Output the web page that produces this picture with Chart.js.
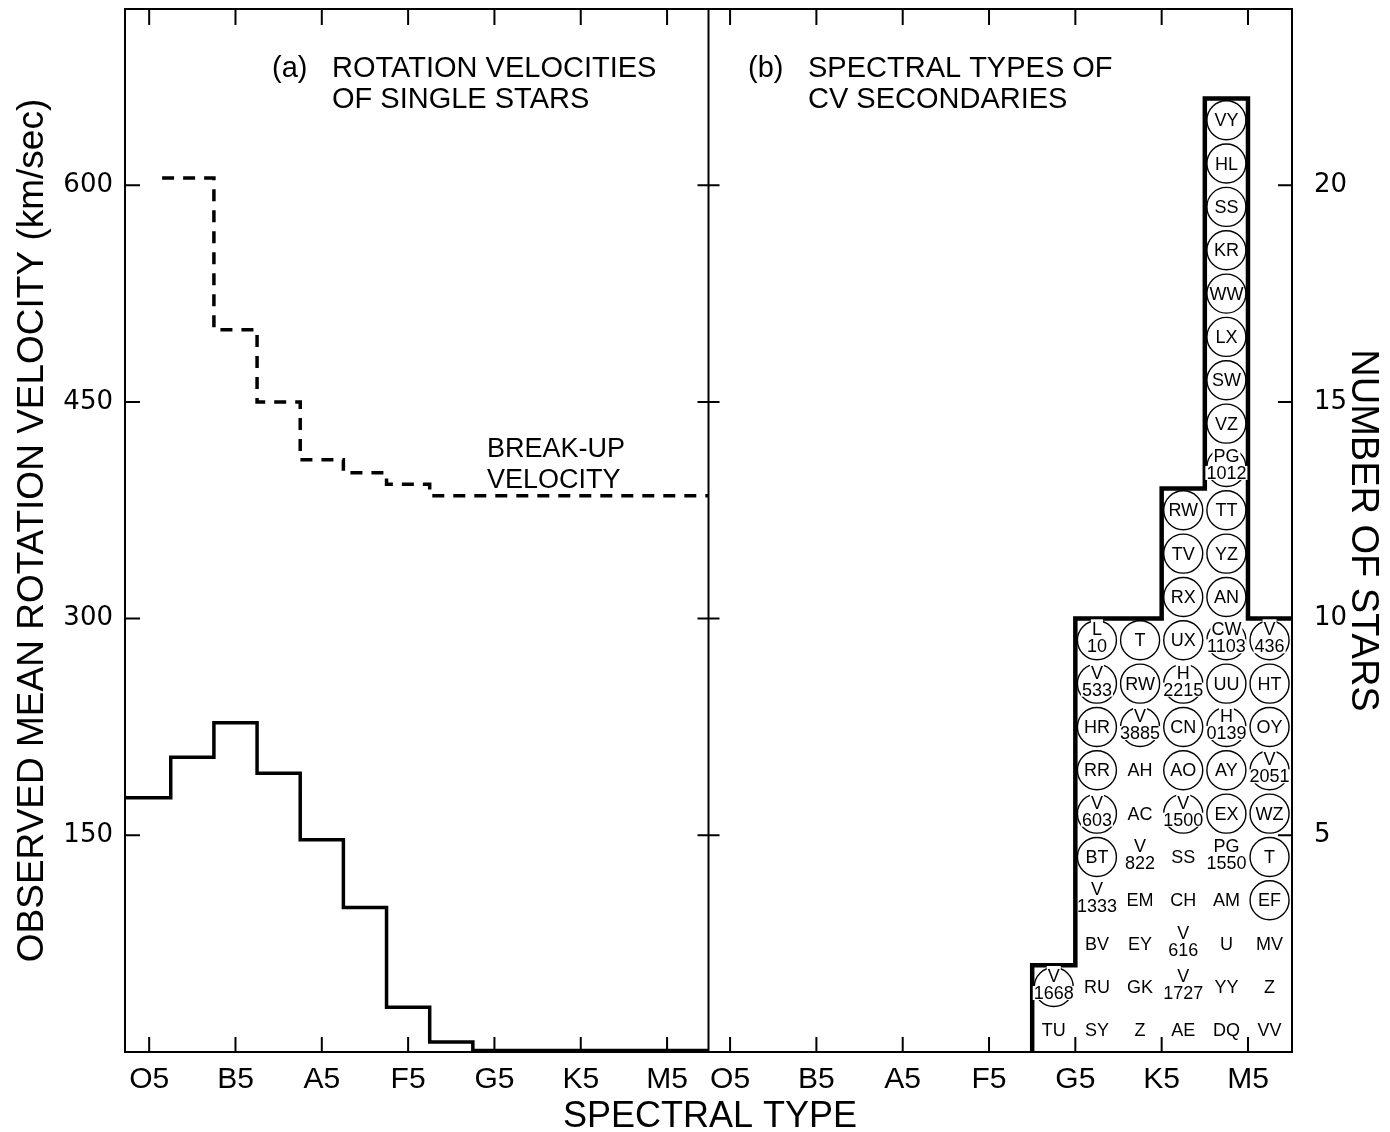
<!DOCTYPE html>
<html>
<head>
<meta charset="utf-8">
<script src="https://cdn.jsdelivr.net/npm/chart.js"></script>
<style>
  html, body { margin: 0; padding: 0; background: #fff; }
  canvas { display: block; }
</style>
</head>
<body>
<canvas id="chart" width="1390" height="1132"></canvas>
<script>
// spectral type axis: one unit per subclass, 0 = O5, 10 = B5, 20 = A5 ...
const typeTicks = [0, 10, 20, 30, 40, 50, 60];
const typeLabels = ['O5', 'B5', 'A5', 'F5', 'G5', 'K5', 'M5'];

// (a) observed mean rotation velocity of single stars (km/s), one value per bin
const rotEdges = [-3, 2.5, 7.5, 12.5, 17.5, 22.5, 27.5, 32.5, 37.5, 65];
const rotMean = [176, 204, 228, 193, 147, 100, 31, 7, 1];

// break-up velocity (km/s)
const breakEdges = [1.5, 7.5, 12.5, 17.5, 22.5, 27.5, 32.5, 65];
const breakUp = [605, 500, 450, 410, 401, 393, 385];

const velTicks = [150, 300, 450, 600];
const VEL_MAX = 722;
const KMS_PER_STAR = 30;   // right axis: 5 stars per 150 km/s

// (b) spectral types of CV secondaries
const cvEdges = [35, 40, 45, 50, 55, 60, 65];
const cvCounts = [2, 10, 10, 13, 22, 10];
const starTicks = [5, 10, 15, 20];

// names per bin, listed bottom to top; from circledFrom[i] upward they are ringed
const cvNames = [
  ['TU', 'V\n1668'],
  ['SY', 'RU', 'BV', 'V\n1333', 'BT', 'V\n603', 'RR', 'HR', 'V\n533', 'L\n10'],
  ['Z', 'GK', 'EY', 'EM', 'V\n822', 'AC', 'AH', 'V\n3885', 'RW', 'T'],
  ['AE', 'V\n1727', 'V\n616', 'CH', 'SS', 'V\n1500', 'AO', 'CN', 'H\n2215', 'UX', 'RX', 'TV', 'RW'],
  ['DQ', 'YY', 'U', 'AM', 'PG\n1550', 'EX', 'AY', 'H\n0139', 'UU', 'CW\n1103', 'AN', 'YZ', 'TT',
   'PG\n1012', 'VZ', 'SW', 'LX', 'WW', 'KR', 'SS', 'HL', 'VY'],
  ['VV', 'Z', 'MV', 'EF', 'T', 'WZ', 'V\n2051', 'OY', 'HT', 'V\n436']
];
const circledFrom = [1, 4, 7, 5, 5, 3];

const SANS = '"Liberation Sans", Arial, sans-serif';
const WIDE = '"DejaVu Sans", sans-serif';

// points at the left edge of every bin, plus the closing right edge
function steps(edges, values) {
  const pts = values.map((v, i) => ({x: edges[i], y: v}));
  pts.push({x: edges[edges.length - 1], y: values[values.length - 1]});
  return pts;
}

const histPts = [{x: cvEdges[0], y: 0}].concat(steps(cvEdges, cvCounts));

function typeAxis(min, max) {
  return {
    type: 'linear', position: 'bottom', stack: 'type', min, max,
    grid: {display: false, drawTicks: false}, border: {display: false},
    afterBuildTicks: s => { s.ticks = typeTicks.map(v => ({value: v})); },
    afterFit: s => { s.height = 80; s.paddingLeft = 0; s.paddingRight = 0; },
    ticks: {
      callback: v => typeLabels[typeTicks.indexOf(v)],
      font: {family: SANS, size: 30}, color: '#000', padding: 10,
      maxRotation: 0, autoSkip: false
    }
  };
}

// fixed width, and no extra room reserved above/below for tick labels
function fixWidth(w) {
  return s => { s.width = w; s.paddingTop = 0; s.paddingBottom = 0; };
}

const decorations = {
  id: 'decorations',
  afterDatasetsDraw(chart) {
    const {ctx, chartArea: a} = chart;
    const {x, x2, y, y2} = chart.scales;
    const mid = x.right;
    ctx.save();
    ctx.strokeStyle = '#000';
    ctx.fillStyle = '#000';

    // frame, divider and inward tick marks
    ctx.lineWidth = 2;
    ctx.strokeRect(a.left, a.top, a.width, a.height);
    ctx.beginPath();
    ctx.moveTo(mid, a.top);
    ctx.lineTo(mid, a.bottom);
    for (const sc of [x, x2]) {
      for (const t of typeTicks) {
        const px = sc.getPixelForValue(t);
        ctx.moveTo(px, a.top); ctx.lineTo(px, a.top + 16);
        ctx.moveTo(px, a.bottom); ctx.lineTo(px, a.bottom - 15);
      }
    }
    for (const t of velTicks) {
      const py = y.getPixelForValue(t);
      ctx.moveTo(a.left, py); ctx.lineTo(a.left + 15, py);
      ctx.moveTo(mid, py); ctx.lineTo(mid - 11, py);
    }
    for (const t of starTicks) {
      const py = y2.getPixelForValue(t);
      ctx.moveTo(mid, py); ctx.lineTo(mid + 11, py);
      ctx.moveTo(a.right, py); ctx.lineTo(a.right - 14, py);
    }
    ctx.stroke();

    // panel headings
    ctx.textAlign = 'left';
    ctx.textBaseline = 'alphabetic';
    ctx.font = '29px ' + SANS;
    ctx.fillText('(a)', 272, 77);
    ctx.fillText('ROTATION VELOCITIES', 332, 77);
    ctx.fillText('OF SINGLE STARS', 332, 108);
    ctx.fillText('(b)', 748, 77);
    ctx.fillText('SPECTRAL TYPES OF', 808, 77);
    ctx.fillText('CV SECONDARIES', 808, 108);

    ctx.font = '27px ' + SANS;
    ctx.fillText('BREAK-UP', 487, 457);
    ctx.fillText('VELOCITY', 487, 488);

    ctx.textAlign = 'center';
    ctx.font = '36px ' + SANS;
    ctx.fillText('SPECTRAL TYPE', 710, 1127);

    // star names stacked inside the histogram
    ctx.font = '18px ' + SANS;
    ctx.textBaseline = 'middle';
    cvNames.forEach((names, b) => {
      const cx = x2.getPixelForValue((cvEdges[b] + cvEdges[b + 1]) / 2);
      names.forEach((name, r) => {
        const cy = y2.getPixelForValue(r + 0.5);
        const lines = name.split('\n');
        const ringed = r >= circledFrom[b];
        if (ringed) {
          ctx.lineWidth = 1.4;
          ctx.beginPath();
          ctx.arc(cx, cy, 19.5, 0, Math.PI * 2);
          ctx.stroke();
        }
        const offs = lines.length === 1 ? [0] : [-11, 6];
        lines.forEach((t, k) => {
          const ty = cy + offs[k];
          if (ringed && lines.length > 1) {
            const w = ctx.measureText(t).width;
            ctx.fillStyle = '#fff';
            if (k === 0) ctx.fillRect(cx - w / 2 - 1, ty - 10, w + 2, 16);
            else ctx.fillRect(cx - w / 2 - 1, ty - 7, w + 2, 14);
            ctx.fillStyle = '#000';
          }
          ctx.fillText(t, cx, ty + 1);
        });
      });
    });
    ctx.restore();
  }
};

new Chart(document.getElementById('chart'), {
  type: 'line',
  data: {
    datasets: [
      {
        label: 'Observed mean rotation velocity',
        data: steps(rotEdges, rotMean),
        xAxisID: 'x', yAxisID: 'y',
        stepped: 'before',
        borderColor: '#000', borderWidth: 3.5,
        borderJoinStyle: 'miter', pointRadius: 0, fill: false
      },
      {
        label: 'Break-up velocity',
        data: steps(breakEdges, breakUp),
        xAxisID: 'x', yAxisID: 'y',
        stepped: 'before',
        borderColor: '#000', borderWidth: 3.5, borderDash: [12, 9],
        borderJoinStyle: 'miter', pointRadius: 0, fill: false
      },
      {
        label: 'CV secondaries',
        data: histPts,
        xAxisID: 'x2', yAxisID: 'y2',
        stepped: 'before',
        borderColor: '#000', borderWidth: 4.5,
        borderJoinStyle: 'miter', pointRadius: 0, fill: false
      }
    ]
  },
  options: {
    responsive: false,
    animation: false,
    parsing: false,
    layout: {padding: {top: 9, left: 0, right: 0, bottom: 0}},
    plugins: {legend: {display: false}, tooltip: {enabled: false}},
    scales: {
      x: typeAxis(-2.8, 64.8),
      x2: typeAxis(-2.5, 65.1),
      y: {
        position: 'left', min: 0, max: VEL_MAX,
        grid: {display: false, drawTicks: false}, border: {display: false},
        afterBuildTicks: s => { s.ticks = velTicks.map(v => ({value: v})); },
        afterFit: fixWidth(125),
        ticks: {font: {family: WIDE, size: 26}, color: '#000', padding: 12},
        title: {
          display: true, text: 'OBSERVED MEAN ROTATION VELOCITY (km/sec)',
          font: {family: SANS, size: 37}, color: '#000', padding: {top: 11, bottom: 0}
        }
      },
      y2: {
        position: 'right', min: 0, max: VEL_MAX / KMS_PER_STAR,
        grid: {display: false, drawTicks: false}, border: {display: false},
        afterBuildTicks: s => { s.ticks = starTicks.map(v => ({value: v})); },
        afterFit: fixWidth(98),
        ticks: {font: {family: WIDE, size: 26}, color: '#000', padding: 22},
        title: {
          display: true, text: 'NUMBER OF STARS',
          font: {family: SANS, size: 38}, color: '#000', padding: {top: 5, bottom: 0}
        }
      }
    }
  },
  plugins: [decorations]
});
</script>
</body>
</html>
